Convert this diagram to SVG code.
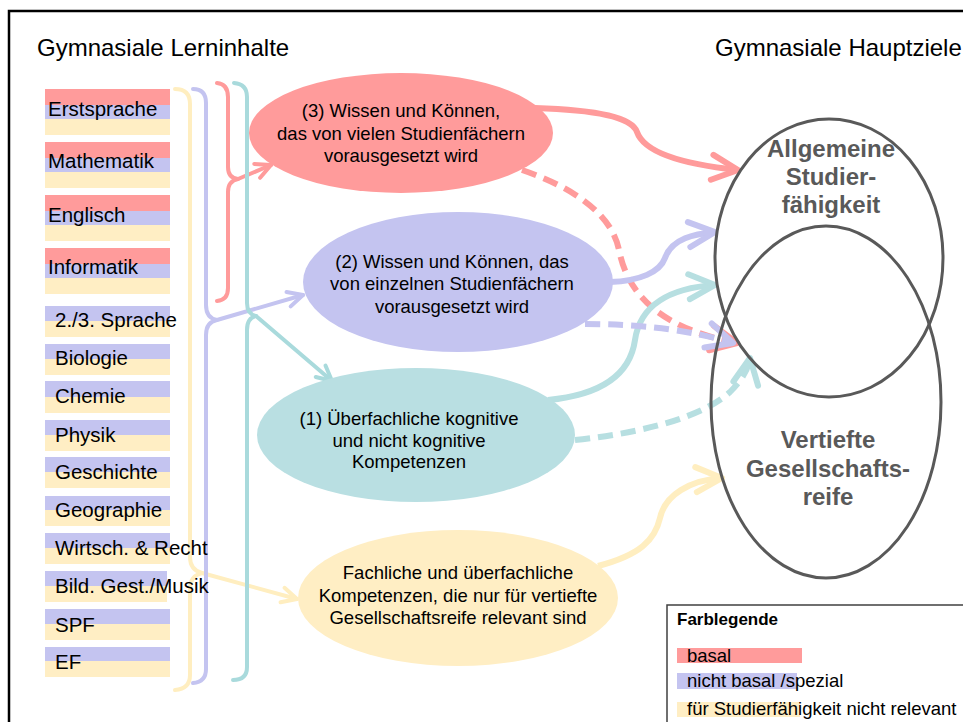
<svg xmlns="http://www.w3.org/2000/svg" width="963" height="722" viewBox="0 0 963 722">
<style>
text { font-family: "Liberation Sans", Arial, sans-serif; fill: #000; }
.title { font-size: 24px; }
.sub { font-size: 20.5px; }
.nt { font-size: 18.5px; text-anchor: middle; }
.vl { font-size: 24px; font-weight: bold; fill: #595959; text-anchor: middle; }
.leg { font-size: 18.5px; }
.r { fill: #FF9B9B; }
.b { fill: #C4C4F0; }
.y { fill: #FFEEC4; }
.t { fill: #B9DFE2; }
.venn { fill: none; stroke: #595959; stroke-width: 3; }
.br { fill: none; stroke-width: 4; stroke-linecap: round; stroke-linejoin: round; }
.cn { fill: none; stroke-width: 6; stroke-linecap: butt; }
.dash { stroke-dasharray: 15 8; }
.sr { stroke: #FF9B9B; }
.sb { stroke: #C4C4F0; }
.sy { stroke: #FFEEC0; }
.st { stroke: #A9DADC; }
.st2 { stroke: #B7DFE1; }
</style>
<defs>
<marker id="aR" markerUnits="userSpaceOnUse" markerWidth="40" markerHeight="40" refX="0" refY="0" orient="auto" overflow="visible"><path d="M-26,-12.5 L0,0 L-26,12.5" fill="none" stroke="#FF9B9B" stroke-width="6" stroke-linecap="round" stroke-linejoin="round"/></marker>
<marker id="aB" markerUnits="userSpaceOnUse" markerWidth="40" markerHeight="40" refX="0" refY="0" orient="auto" overflow="visible"><path d="M-26,-12.5 L0,0 L-26,12.5" fill="none" stroke="#C4C4F0" stroke-width="6" stroke-linecap="round" stroke-linejoin="round"/></marker>
<marker id="aT" markerUnits="userSpaceOnUse" markerWidth="40" markerHeight="40" refX="0" refY="0" orient="auto" overflow="visible"><path d="M-26,-12.5 L0,0 L-26,12.5" fill="none" stroke="#B7DFE1" stroke-width="6" stroke-linecap="round" stroke-linejoin="round"/></marker>
<marker id="aY" markerUnits="userSpaceOnUse" markerWidth="40" markerHeight="40" refX="0" refY="0" orient="auto" overflow="visible"><path d="M-26,-12.5 L0,0 L-26,12.5" fill="none" stroke="#FFEEC0" stroke-width="6" stroke-linecap="round" stroke-linejoin="round"/></marker>
<marker id="sR" markerUnits="userSpaceOnUse" markerWidth="30" markerHeight="30" refX="0" refY="0" orient="auto" overflow="visible"><path d="M-15,-7.5 L0,0 L-15,7.5" fill="none" stroke="#FF9B9B" stroke-width="4" stroke-linecap="round" stroke-linejoin="round"/></marker>
<marker id="sB" markerUnits="userSpaceOnUse" markerWidth="30" markerHeight="30" refX="0" refY="0" orient="auto" overflow="visible"><path d="M-15,-7.5 L0,0 L-15,7.5" fill="none" stroke="#C4C4F0" stroke-width="4" stroke-linecap="round" stroke-linejoin="round"/></marker>
<marker id="sT" markerUnits="userSpaceOnUse" markerWidth="30" markerHeight="30" refX="0" refY="0" orient="auto" overflow="visible"><path d="M-15,-7.5 L0,0 L-15,7.5" fill="none" stroke="#A9DADC" stroke-width="4" stroke-linecap="round" stroke-linejoin="round"/></marker>
<marker id="sY" markerUnits="userSpaceOnUse" markerWidth="30" markerHeight="30" refX="0" refY="0" orient="auto" overflow="visible"><path d="M-15,-7.5 L0,0 L-15,7.5" fill="none" stroke="#FFEEC0" stroke-width="4" stroke-linecap="round" stroke-linejoin="round"/></marker>
</defs>
<rect x="0" y="0" width="963" height="722" fill="#fff"/>
<rect x="9" y="11" width="980" height="740" fill="none" stroke="#000" stroke-width="2.5"/>

<text class="title" x="37" y="56">Gymnasiale Lerninhalte</text>
<text class="title" x="715" y="56">Gymnasiale Hauptziele</text>

<g id="connectors">
<path class="br sy" d="M175 89 Q190 89 190 104 L190 557 Q190 570 202 573 Q190 576 190 589 L190 675 Q190 689 175 690"/>
<path class="br sy" d="M202 573 L297 599" marker-end="url(#sY)"/>
<path class="br sb" d="M193 89 Q206 89 206 103 L206 305 Q206 318 217 320 Q206 322 206 335 L206 669 Q206 682 193 683"/>
<path class="br sb" d="M217 320 L303 295" marker-end="url(#sB)"/>
<path class="br sr" d="M217 83 Q228 84 228 97 L228 167 Q228 178 238 179 Q228 181 228 192 L228 288 Q228 300 217 301"/>
<path class="br sr" d="M238 179 L271 165" marker-end="url(#sR)"/>
<path class="br st" d="M234 83 Q247 84 247 97 L247 303 Q247 314 256 316 Q247 318 247 330 L247 667 Q247 680 233 680"/>
<path class="br st" d="M256 316 L332 381" marker-end="url(#sT)"/>

<path class="cn sr" d="M535 108 C600 110 632 118 637 132 C645 155 690 165 738 170" marker-end="url(#aR)"/>
<path class="cn sr dash" d="M522 170 C575 188 612 215 619 250 C628 295 660 328 737 343" marker-end="url(#aR)"/>
<path class="cn sb" d="M610 282 C640 281 660 272 665 258 C672 238 695 234 715 232" marker-end="url(#aB)"/>
<path class="cn st2" d="M548 400 C600 395 630 375 635 340 C640 305 670 288 715 285" marker-end="url(#aT)"/>
<path class="cn sb dash" d="M585 324 C640 324 690 330 733 343" marker-end="url(#aB)"/>
<path class="cn st2 dash" d="M575 440 C650 432 705 415 730 392 C742 380 748 370 750 358" marker-end="url(#aT)"/>
<path class="cn sy" d="M598 566 C640 555 655 540 660 518 C665 495 690 480 722 478" marker-end="url(#aY)"/>
</g>

<g id="subjects">
<g id="s-erstsprache"><rect class="r" x="45" y="89" width="125" height="16"/><rect class="b" x="45" y="105" width="125" height="14"/><rect class="y" x="45" y="119" width="125" height="16"/><text class="sub" x="48" y="116">Erstsprache</text></g>
<g id="s-mathematik"><rect class="r" x="45" y="142" width="125" height="16"/><rect class="b" x="45" y="158" width="125" height="14"/><rect class="y" x="45" y="172" width="125" height="16"/><text class="sub" x="48" y="168">Mathematik</text></g>
<g id="s-englisch"><rect class="r" x="45" y="195" width="125" height="16"/><rect class="b" x="45" y="211" width="125" height="14"/><rect class="y" x="45" y="225" width="125" height="16"/><text class="sub" x="48" y="222">Englisch</text></g>
<g id="s-informatik"><rect class="r" x="45" y="248" width="125" height="16"/><rect class="b" x="45" y="264" width="125" height="14"/><rect class="y" x="45" y="278" width="125" height="16"/><text class="sub" x="48" y="274">Informatik</text></g>
<g id="s-sprache"><rect class="b" x="45" y="306" width="125" height="15"/><rect class="y" x="45" y="321" width="125" height="16"/><text class="sub" x="55" y="327">2./3. Sprache</text></g>
<g id="s-biologie"><rect class="b" x="45" y="344" width="125" height="15"/><rect class="y" x="45" y="359" width="125" height="16"/><text class="sub" x="55" y="365">Biologie</text></g>
<g id="s-chemie"><rect class="b" x="45" y="381" width="125" height="16"/><rect class="y" x="45" y="397" width="125" height="16"/><text class="sub" x="55" y="403">Chemie</text></g>
<g id="s-physik"><rect class="b" x="45" y="420" width="125" height="15"/><rect class="y" x="45" y="435" width="125" height="16"/><text class="sub" x="55" y="442">Physik</text></g>
<g id="s-geschichte"><rect class="b" x="45" y="457" width="125" height="15"/><rect class="y" x="45" y="472" width="125" height="16"/><text class="sub" x="55" y="479">Geschichte</text></g>
<g id="s-geographie"><rect class="b" x="45" y="496" width="125" height="14"/><rect class="y" x="45" y="510" width="125" height="16"/><text class="sub" x="55" y="517">Geographie</text></g>
<g id="s-wr"><rect class="b" x="45" y="533" width="125" height="15"/><rect class="y" x="45" y="548" width="125" height="16"/><text class="sub" x="55" y="555">Wirtsch. &amp; Recht</text></g>
<g id="s-bg"><rect class="b" x="45" y="571" width="122" height="15"/><rect class="y" x="45" y="586" width="122" height="16"/><text class="sub" x="55" y="593">Bild. Gest./Musik</text></g>
<g id="s-spf"><rect class="b" x="45" y="609" width="125" height="15"/><rect class="y" x="45" y="624" width="125" height="16"/><text class="sub" x="55" y="632">SPF</text></g>
<g id="s-ef"><rect class="b" x="45" y="647" width="125" height="14"/><rect class="y" x="45" y="661" width="125" height="16"/><text class="sub" x="55" y="669">EF</text></g>
</g>

<g id="n3"><ellipse class="r" cx="401" cy="133" rx="152" ry="60"/>
<text class="nt" x="401" y="117">(3) Wissen und Können,</text>
<text class="nt" x="401" y="140">das von vielen Studienfächern</text>
<text class="nt" x="401" y="162">vorausgesetzt wird</text></g>

<g id="n2"><ellipse class="b" cx="458" cy="282" rx="155" ry="70"/>
<text class="nt" x="452" y="268">(2) Wissen und Können, das</text>
<text class="nt" x="452" y="290">von einzelnen Studienfächern</text>
<text class="nt" x="452" y="313">vorausgesetzt wird</text></g>

<g id="n1"><ellipse class="t" cx="416" cy="435" rx="159" ry="67"/>
<text class="nt" x="409" y="425">(1) Überfachliche kognitive</text>
<text class="nt" x="409" y="447">und nicht kognitive</text>
<text class="nt" x="409" y="468">Kompetenzen</text></g>

<g id="n0"><ellipse class="y" cx="458" cy="598" rx="160" ry="68"/>
<text class="nt" x="458" y="579">Fachliche und überfachliche</text>
<text class="nt" x="458" y="602">Kompetenzen, die nur für vertiefte</text>
<text class="nt" x="458" y="624">Gesellschaftsreife relevant sind</text></g>

<g id="goal-studier"><ellipse class="venn" cx="829" cy="258" rx="114" ry="139"/>
<text class="vl" x="831" y="157">Allgemeine</text>
<text class="vl" x="831" y="185">Studier-</text>
<text class="vl" x="831" y="213">fähigkeit</text></g>

<g id="goal-gesell"><ellipse class="venn" cx="826" cy="402" rx="115" ry="176"/>
<text class="vl" x="828" y="448">Vertiefte</text>
<text class="vl" x="828" y="477">Gesellschafts-</text>
<text class="vl" x="828" y="505">reife</text></g>

<g id="legend">
<rect x="667" y="605" width="320" height="140" fill="#fff" stroke="#404040" stroke-width="1.5"/>
<text x="677" y="625" font-size="17" font-weight="bold">Farblegende</text>
<rect class="r" x="677" y="648" width="125" height="15"/>
<text class="leg" x="687" y="662">basal</text>
<rect class="b" x="677" y="673" width="120" height="16"/>
<text class="leg" x="687" y="687">nicht basal /spezial</text>
<rect class="y" x="677" y="702" width="123" height="15"/>
<text class="leg" x="687" y="715">für Studierfähigkeit nicht relevant</text>
</g>
</svg>
